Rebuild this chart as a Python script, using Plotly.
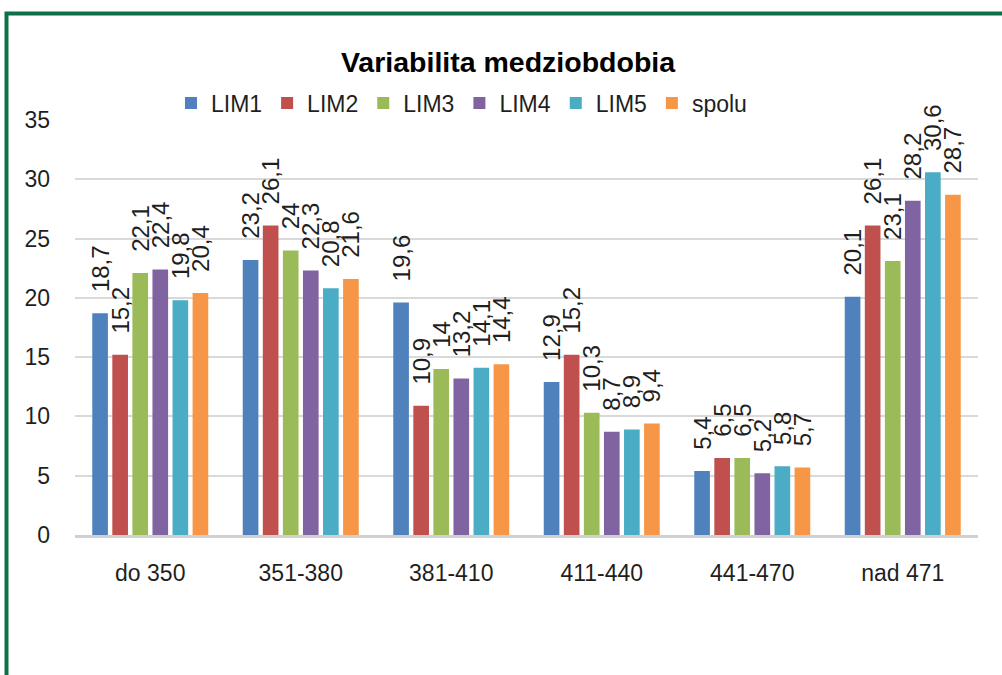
import plotly.graph_objects as go

categories = ["do 350", "351-380", "381-410", "411-440", "441-470", "nad 471"]
series_names = ["LIM1", "LIM2", "LIM3", "LIM4", "LIM5", "spolu"]
lim1 = [18.7, 23.2, 19.6, 12.9, 5.4, 20.1]
lim2 = [15.2, 26.1, 10.9, 15.2, 6.5, 26.1]
lim3 = [22.1, 24.0, 14.0, 10.3, 6.5, 23.1]
lim4 = [22.4, 22.3, 13.2, 8.7, 5.2, 28.2]
lim5 = [19.8, 20.8, 14.1, 8.9, 5.8, 30.6]
spolu = [20.4, 21.6, 14.4, 9.4, 5.7, 28.7]
y_ticks = [0, 5, 10, 15, 20, 25, 30, 35]

series_values = [lim1, lim2, lim3, lim4, lim5, spolu]
colors = ["#4F81BD", "#C0504D", "#9BBB59", "#8064A2", "#4BACC6", "#F79646"]

FONT = "Liberation Sans"
TXT = "#1F1F1F"
PAD = "\u00a0\u00a0\u2009"  # gap between bar top and rotated label


def fmt(v):
    return PAD + ("%g" % v).replace(".", ",")


fig = go.Figure()
for name, vals, col in zip(series_names, series_values, colors):
    fig.add_trace(go.Bar(
        x=categories, y=vals, name=name,
        marker=dict(color=col, line=dict(width=0)),
        text=[fmt(v) for v in vals],
        textposition="outside",
        textangle=-90,
        constraintext="none",
        cliponaxis=False,
        textfont=dict(family=FONT, size=24, color=TXT),
    ))

fig.update_layout(
    width=1002, height=675,
    margin=dict(l=75, r=24, t=120, b=140),
    paper_bgcolor="white", plot_bgcolor="white",
    barmode="group", bargap=0.2, bargroupgap=0.22,
    separators=",.",
    title=dict(text="<b>Variabilita medziobdobia</b>", x=0.507, xanchor="center",
               y=1 - 62 / 675, yanchor="middle",
               font=dict(family=FONT, size=28.5, color="#000000")),
    legend=dict(orientation="h", x=0.428, xanchor="center", y=(535 - 103) / 415, yanchor="middle",
                font=dict(family=FONT, size=23, color=TXT),
                bgcolor="rgba(0,0,0,0)", itemwidth=30, tracegroupgap=0),
    showlegend=True,
)
fig.update_yaxes(range=[0, 35], tickvals=y_ticks, showgrid=True, gridcolor="#D9D9D9",
                 gridwidth=2, zeroline=False, showline=False,
                 tickfont=dict(family=FONT, size=23, color=TXT),
                 ticklabelstandoff=24)
fig.update_xaxes(showline=True, linecolor="#D0D0D0", linewidth=2.5,
                 tickfont=dict(family=FONT, size=23, color=TXT),
                 ticklabelstandoff=16)

# outer frame
fig.add_shape(type="rect", xref="paper", yref="paper",
              x0=(6.5 - 75) / 903, x1=1.1, y0=-0.5, y1=(535 - 13.5) / 415,
              line=dict(color="#0E7048", width=4), fillcolor="rgba(0,0,0,0)", layer="above")

fig.write_html("out.html", config={"displayModeBar": False},
               post_script="document.body.style.margin='0';")
